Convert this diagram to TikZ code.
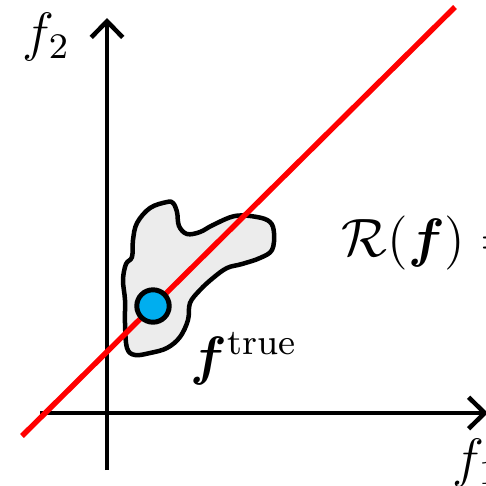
\documentclass[tikz,border=0pt]{standalone}
\usepackage{amsmath,amssymb,bm}
\usetikzlibrary{arrows.meta}
\definecolor{dotblue}{RGB}{0,174,239}
\definecolor{blobgray}{RGB}{236,236,236}
\begin{document}
\begin{tikzpicture}[x=0.222pt,y=-0.222pt,
  axis/.style={line width=1pt,-{Straight Barb[length=3.6pt,width=7pt,line width=1pt]}},
  lbl/.style={inner sep=0pt,font=\large,anchor=base west}]
\useasboundingbox (0,0) rectangle (486,486);
\coordinate (xs) at (40,413);
\coordinate (xe) at (488,413);
\coordinate (ys) at (107,470);
\coordinate (ye) at (107,18);
\draw[axis] (xs) -- (xe);
\draw[axis] (ys) -- (ye);
\draw[fill=blobgray,line width=1pt,line join=round]
 plot[smooth cycle,tension=0.6] coordinates {
 (167,202) (150,208) (137,223) (133,240) (132,257) (126,264) (123,280)
 (125,300) (125,323) (127,348) (135,355) (150,353) (167,348) (180,337)
 (188,320) (190,303) (200,290) (213,278) (227,268) (242,264) (260,258)
 (272,250) (274,233) (270,222) (257,217) (235,216) (213,225) (200,232)
 (187,234) (179,226) (177,212) (173,203)};
\coordinate (ra) at (22,436);
\coordinate (rb) at (455,7);
\draw[red,line width=1.2pt] (ra) -- (rb);
\node[circle,fill=dotblue,draw=black,line width=1.1pt,inner sep=0pt,minimum size=7.2pt] (dot) at (153,306) {};
\node[lbl] (f2) at (22,50) {$f_2$};
\node[lbl] (f1) at (452,476) {$f_1$};
\node[lbl] (R) at (341,256) {$\mathcal{R}(\boldsymbol{f}) =$};
\node[lbl] (ft) at (190,374) {$\boldsymbol{f}^{\text{true}}$};
\end{tikzpicture}
\end{document}
